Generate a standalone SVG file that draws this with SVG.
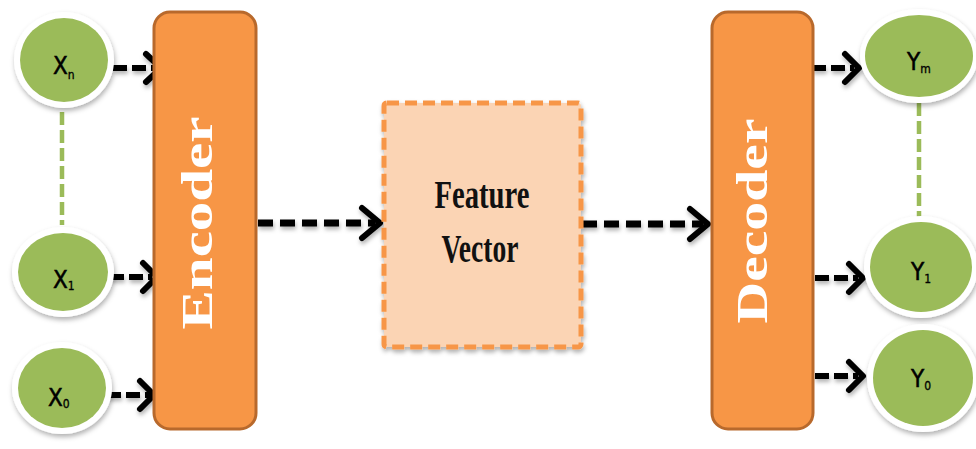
<svg xmlns="http://www.w3.org/2000/svg" width="976" height="449" viewBox="0 0 976 449">
<style>
.blk{fill:#F79646;stroke:#B8692C;stroke-width:3}
.ring{fill:#FFFFFF;filter:url(#sh)}
.grn{fill:#9BBB59}
.lbl{font-family:"Liberation Sans Narrow","DejaVu Sans Condensed","Liberation Sans",sans-serif;font-size:24px;fill:#000000;stroke:#000000;stroke-width:0.5}
.sub{font-size:12px;stroke-width:0.3}
.vt{font-family:"Liberation Serif",serif;font-weight:bold;font-size:44px;fill:#FFFFFF}
.ft{font-family:"Liberation Serif",serif;font-weight:bold;font-size:40px;fill:#111111}
.ar{fill:none;stroke:#000;stroke-width:6;stroke-dasharray:14 5}
.arb{fill:none;stroke:#000;stroke-width:7;stroke-dasharray:15 7}
.hd{fill:none;stroke:#000;stroke-width:6;stroke-linecap:round;stroke-linejoin:round}
.gl{fill:none;stroke:#9BBB59;stroke-width:4.5;stroke-dasharray:13 5}
</style>
<defs>
<filter id="sh" x="-20%" y="-20%" width="140%" height="140%">
<feDropShadow dx="1" dy="3" stdDeviation="2.5" flood-color="#000" flood-opacity="0.3"/>
</filter>
<filter id="sh2" x="-20%" y="-40%" width="140%" height="180%">
<feDropShadow dx="1" dy="3" stdDeviation="2" flood-color="#000" flood-opacity="0.3"/>
</filter>
</defs>

<g id="connectors">
<line class="gl" x1="62" y1="112" x2="62" y2="225"/>
<line class="gl" x1="919" y1="103" x2="919" y2="219"/>
<g filter="url(#sh2)">
<line class="ar" x1="113" y1="68" x2="155" y2="68"/>
<polyline class="hd" points="146,54 161,68 146,82"/>
<line class="ar" x1="110" y1="277" x2="152" y2="277"/>
<polyline class="hd" points="143,263 157,277 143,291"/>
<line class="ar" x1="107" y1="395" x2="150" y2="395"/>
<polyline class="hd" points="140,381 154,395 140,409"/>
<line class="arb" x1="258" y1="223" x2="375" y2="223"/>
<polyline class="hd" points="362,208 380,223 362,238"/>
<line class="arb" x1="582" y1="224" x2="703" y2="224"/>
<polyline class="hd" points="690,209 708,224 690,239"/>
<line class="ar" x1="812" y1="68" x2="854" y2="68"/>
<polyline class="hd" points="845,54 859,68 845,82"/>
<line class="ar" x1="815" y1="278" x2="858" y2="278"/>
<polyline class="hd" points="849,264 863,278 849,292"/>
<line class="ar" x1="815" y1="376" x2="858" y2="376"/>
<polyline class="hd" points="849,362 863,376 849,390"/>
</g>
</g>

<g id="xn">
<ellipse class="ring" cx="64" cy="60" rx="50" ry="48"/>
<ellipse class="grn" cx="64" cy="60" rx="44" ry="42"/>
<text class="lbl" x="53" y="74">X<tspan class="sub" dy="5">n</tspan></text>
</g>
<g id="x1">
<ellipse class="ring" cx="63" cy="272" rx="51" ry="45"/>
<ellipse class="grn" cx="63" cy="272" rx="45" ry="39"/>
<text class="lbl" x="53" y="288">X<tspan class="sub" dy="2">1</tspan></text>
</g>
<g id="x0">
<ellipse class="ring" cx="62" cy="388" rx="50" ry="46"/>
<ellipse class="grn" cx="62" cy="388" rx="44" ry="40"/>
<text class="lbl" x="48" y="406">X<tspan class="sub" dy="2">0</tspan></text>
</g>

<g id="encoder">
<rect class="blk" x="154" y="12" width="102" height="417" rx="16"/>
<text class="vt" transform="translate(212,223) rotate(-90)" text-anchor="middle" textLength="213" lengthAdjust="spacingAndGlyphs">Encoder</text>
</g>

<g id="feature-vector">
<rect x="384" y="103" width="197" height="244" rx="3" fill="#FBD4B4" stroke="#F79646" stroke-width="5" stroke-dasharray="12 6" filter="url(#sh2)"/>
<text class="ft" x="482" y="208" text-anchor="middle" textLength="95" lengthAdjust="spacingAndGlyphs">Feature</text>
<text class="ft" x="480" y="262" text-anchor="middle" textLength="77" lengthAdjust="spacingAndGlyphs">Vector</text>
</g>

<g id="decoder">
<rect class="blk" x="712" y="12" width="101" height="417" rx="16"/>
<text class="vt" transform="translate(767,221) rotate(-90)" text-anchor="middle" textLength="205" lengthAdjust="spacingAndGlyphs">Decoder</text>
</g>

<g id="ym">
<ellipse class="ring" cx="919" cy="56" rx="59" ry="47"/>
<ellipse class="grn" cx="919" cy="56" rx="54" ry="41"/>
<text class="lbl" x="907" y="70">Y<tspan class="sub" dy="3">m</tspan></text>
</g>
<g id="y1">
<ellipse class="ring" cx="921" cy="267" rx="57" ry="51"/>
<ellipse class="grn" cx="921" cy="267" rx="51" ry="45"/>
<text class="lbl" x="911" y="280">Y<tspan class="sub" dy="3">1</tspan></text>
</g>
<g id="y0">
<ellipse class="ring" cx="923" cy="378" rx="56" ry="54"/>
<ellipse class="grn" cx="923" cy="378" rx="50" ry="48"/>
<text class="lbl" x="911" y="387">Y<tspan class="sub" dy="3">0</tspan></text>
</g>
</svg>
